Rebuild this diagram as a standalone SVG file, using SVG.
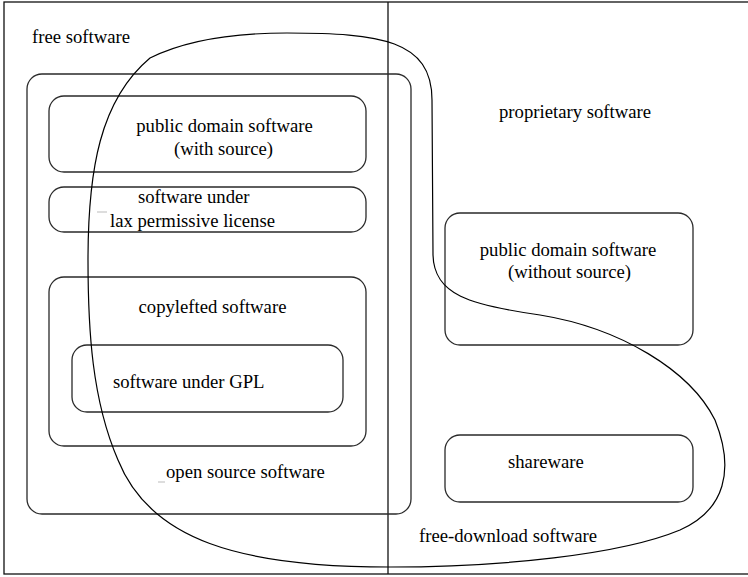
<svg xmlns="http://www.w3.org/2000/svg" width="748" height="577" viewBox="0 0 748 577">
<style>
  .box { fill: none; stroke: #2a2a2a; stroke-width: 1.3; }
  .line { fill: none; stroke: #111; stroke-width: 1.3; }
  .curve { fill: none; stroke: #000; stroke-width: 1.2; }
  .mark { stroke: #bbb; stroke-width: 1; }
  text { font-family: "Liberation Serif", "Times New Roman", serif; font-size: 18.7px; fill: #000; }
  .c { text-anchor: middle; }
</style>
<rect width="748" height="577" fill="#fff"/>
<g id="frame">
  <rect class="line" x="4" y="2" width="760" height="572"/>
  <line class="line" x1="388" y1="2" x2="388" y2="574"/>
  <text x="32" y="43">free software</text>
  <text class="c" x="575" y="118">proprietary software</text>
</g>
<g id="open-source">
  <rect class="box" x="27" y="74" width="384" height="440" rx="15"/>
  <text x="166" y="478">open source software</text>
  <line class="mark" x1="158" y1="482" x2="165" y2="482"/>
</g>
<g id="pd-with-source">
  <rect class="box" x="49" y="96" width="317" height="76" rx="15"/>
  <text class="c" x="224.5" y="132">public domain software</text>
  <text class="c" x="223.5" y="155">(with source)</text>
</g>
<g id="lax">
  <rect class="box" x="49" y="187" width="317" height="45" rx="15"/>
  <text x="138" y="203">software under</text>
  <text x="110" y="227">lax permissive license</text>
  <line class="mark" x1="97" y1="212" x2="107" y2="212"/>
</g>
<g id="copyleft">
  <rect class="box" x="49" y="277" width="317" height="169" rx="15"/>
  <text class="c" x="212.5" y="313">copylefted software</text>
</g>
<g id="gpl">
  <rect class="box" x="72" y="345" width="271" height="67" rx="15"/>
  <text x="113" y="388">software under GPL</text>
</g>
<g id="pd-without-source">
  <rect class="box" x="445" y="213" width="248" height="132" rx="15"/>
  <text class="c" x="568" y="256">public domain software</text>
  <text class="c" x="569.5" y="278">(without source)</text>
</g>
<g id="shareware">
  <rect class="box" x="445" y="435" width="248" height="67" rx="15"/>
  <text x="508" y="468">shareware</text>
</g>
<g id="connectors">
  <path class="curve" d="M 287 33 C 380 33, 432 40, 432 100 L 433 255 C 434 295, 470 305, 540 315 C 620 328, 690 370, 715 420 C 735 470, 725 510, 680 530 C 620 555, 500 567, 390 567 C 240 567, 150 540, 118 460 C 92 400, 88 330, 88 260 C 88 170, 100 100, 150 58 C 190 38, 240 33, 287 33 Z"/>
  <text x="419" y="542">free-download software</text>
</g>
</svg>
